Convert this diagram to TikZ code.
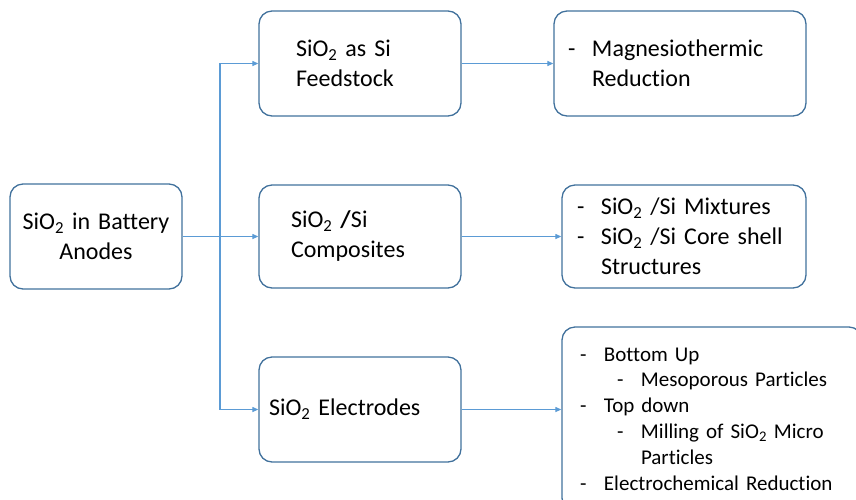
\documentclass[tikz,border=0pt]{standalone}
\usepackage{fontspec}
\setmainfont{Carlito}[Ligatures=CommonOff]
\usetikzlibrary{arrows.meta}

\definecolor{boxline}{HTML}{41719C}
\definecolor{linkline}{HTML}{5B9BD5}
\newcommand{\sioxide}{SiO\textsubscript{2}}
\newcommand{\bul}{\makebox[24pt][l]{-}}

\begin{document}
\begin{tikzpicture}[x=1pt, y=-1pt,
    stage/.style={draw=boxline, line width=1.3pt, rounded corners=13pt, align=left,
                  inner ysep=0pt, font=\fontsize{24}{30}\selectfont},
    link/.style={draw=linkline, line width=1.2pt, -{Triangle[length=6pt,width=5pt]}}]
    \useasboundingbox (0,0) rectangle (856,499);
    \clip (0,0) rectangle (856,499);
    % root and the three routes
    \node[stage, align=center, text width=156pt, inner xsep=8pt, minimum height=105pt] (root) at (96,236.5) {\sioxide{} in Battery\\Anodes};
    \node[stage, text width=128pt, inner xsep=37pt, minimum height=105pt] (feed) at (360,63.5) {\sioxide{} as Si\\Feedstock};
    \node[stage, text width=138pt, inner xsep=32pt, minimum height=103pt] (composite) at (360,236.5) {\sioxide{} \textbf{/}Si\\Composites};
    \node[stage, text width=182pt, inner xsep=10pt, minimum height=105pt] (electrode) at (360,409.5) {\sioxide{} Electrodes};
    % detail boxes
    \node[stage, text width=224pt, inner xsep=14pt, minimum height=105pt] (magnesio) at (680,63.5) {\bul Magnesiothermic\\\hspace*{24pt}Reduction};
    \node[stage, text width=214pt, inner xsep=15pt, minimum height=103pt] (mixture) at (684,236.5) {\bul\sioxide{} /Si Mixtures\\\bul\sioxide{} /Si Core shell\\\hspace*{24pt}Structures};
    \node[stage, text width=264pt, inner xsep=18pt, minimum height=184pt, font=\fontsize{21}{25.8}\selectfont] (method) at (712,419) {\bul Bottom Up\\\hspace*{37pt}\bul Mesoporous Particles\\\bul Top down\\\hspace*{37pt}\bul Milling of \sioxide{} Micro\\\hspace*{61pt}Particles\\\bul Electrochemical Reduction};
    % connectors
    \coordinate (split) at (220,236.5);
    \draw[link] (root.east) -- (composite.west);
    \draw[link] (split) |- (feed.west);
    \draw[link] (split) |- (electrode.west);
    \draw[link] (feed.east) -- (magnesio.west);
    \draw[link] (composite.east) -- (mixture.west);
    \draw[link] (electrode.east) -- (electrode.east -| method.west);
\end{tikzpicture}
\end{document}
